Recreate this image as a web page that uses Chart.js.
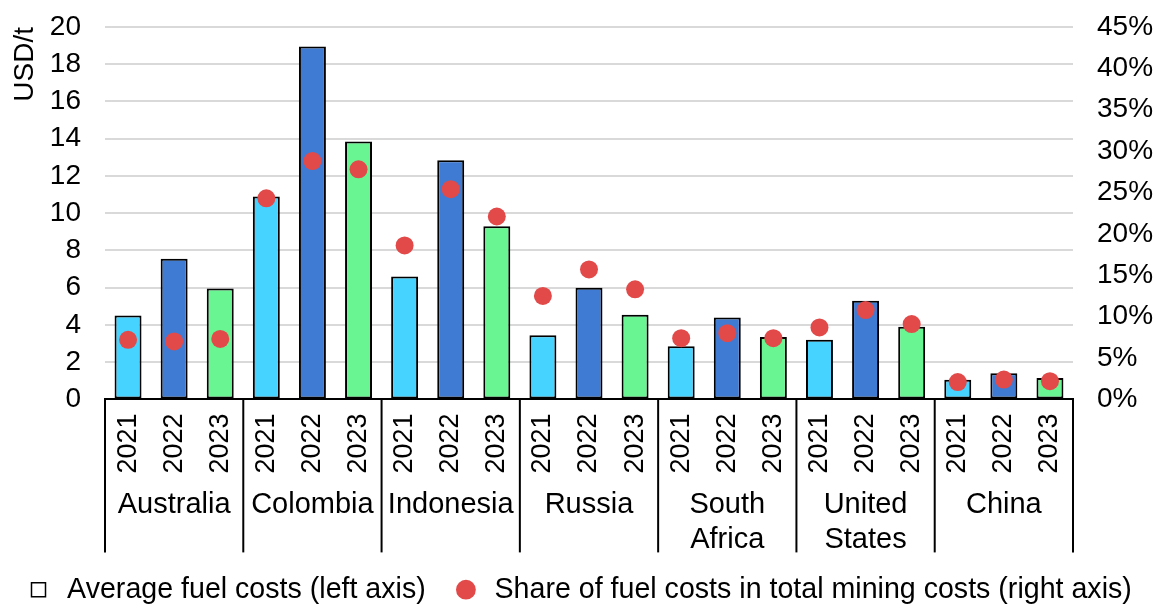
<!DOCTYPE html>
<html>
<head>
<meta charset="utf-8">
<script src="https://cdn.jsdelivr.net/npm/chart.js@4"></script>
<style>
	html, body { margin: 0; padding: 0; background: #fff; }
	#wrap { width: 1156px; height: 605px; }
</style>
</head>
<body>
<div id="wrap"><canvas id="fuel-chart"></canvas></div>
<script>
const years = ["2021", "2022", "2023"];
const countries = ["Australia", "Colombia", "Indonesia", "Russia", ["South", "Africa"], ["United", "States"], "China"];

// USD/t, one row per country (2021, 2022, 2023)
const fuelCosts = [
	4.5, 7.55, 5.95,
	10.9, 18.95, 13.85,
	6.6, 12.85, 9.3,
	3.45, 6.0, 4.55,
	2.85, 4.4, 3.35,
	3.2, 5.3, 3.9,
	1.05, 1.4, 1.15
];

// share of fuel costs in total mining costs, %
const fuelShare = [
	7.2, 7.0, 7.3,
	24.3, 28.8, 27.8,
	18.6, 25.4, 22.1,
	12.5, 15.7, 13.3,
	7.4, 8.0, 7.4,
	8.7, 10.8, 9.1,
	2.1, 2.4, 2.2
];

const leftTicks = [0, 20, 2];
const rightTicks = [0, 45, 5];

const yearColors = ["#47D3FF", "#3F7BD3", "#68F592"];

Chart.defaults.font.family = "'Liberation Sans', Arial, sans-serif";
Chart.defaults.color = "#000";

var labels = [];
var barColors = [];
for (var i = 0; i < fuelCosts.length; i++) {
	labels.push(years[i % 3]);
	barColors.push(yearColors[i % 3]);
}

// vertical separators between the country groups, under the axis
const groupLines = {
	id: 'groupLines',
	afterDraw(chart) {
		const xs = chart.scales.x;
		const ctx = chart.ctx;
		ctx.save();
		ctx.strokeStyle = "#000";
		ctx.lineWidth = 2;
		for (var k = 0; k <= countries.length; k++) {
			var px;
			if (k == 0) px = xs.left;
			else if (k == countries.length) px = xs.right;
			else px = (xs.getPixelForValue(k * 3 - 1) + xs.getPixelForValue(k * 3)) / 2;
			ctx.beginPath();
			ctx.moveTo(px, xs.top);
			ctx.lineTo(px, xs.top + 153);
			ctx.stroke();
		}
		ctx.restore();
	}
};

var chart = new Chart(document.getElementById('fuel-chart'), {
	type: 'bar',
	data: {
		labels: labels,
		datasets: [{
			type: 'bar',
			label: 'Average fuel costs (left axis)',
			data: fuelCosts,
			backgroundColor: barColors,
			borderColor: "#000",
			borderWidth: 2,
			borderSkipped: false,
			barPercentage: 0.585,
			categoryPercentage: 1,
			yAxisID: 'y',
			order: 1
		},
		{
			type: 'line',
			label: 'Share of fuel costs in total mining costs (right axis)',
			data: fuelShare,
			showLine: false,
			pointRadius: 9,
			pointHoverRadius: 9,
			pointBackgroundColor: "#E24A4A",
			pointBorderWidth: 0,
			yAxisID: 'y2',
			order: 0
		}]
	},
	options: {
		responsive: true,
		maintainAspectRatio: false,
		animation: false,
		layout: { autoPadding: false, padding: { top: 27, left: 0, right: 0, bottom: -9 } },
		plugins: {
			tooltip: { enabled: false },
			legend: {
				position: 'bottom',
				labels: {
					font: { size: 28.6 },
					usePointStyle: true,
					boxHeight: 14,
					padding: 10,
					generateLabels: function () {
						return [{
							text: 'Average fuel costs (left axis)  ',
							fillStyle: "#fff",
							strokeStyle: "#000",
							lineWidth: 1.5,
							pointStyle: 'rect',
							datasetIndex: 0
						}, {
							text: 'Share of fuel costs in total mining costs (right axis)',
							fillStyle: "#E24A4A",
							strokeStyle: "#E24A4A",
							lineWidth: 0,
							pointStyle: 'circle',
							datasetIndex: 1
						}];
					}
				}
			}
		},
		scales: {
			x: {
				type: 'category',
				weight: 1,
				offset: true,
				grid: { display: false },
				border: { display: true, color: "#000", width: 2 },
				ticks: { autoSkip: false, minRotation: 90, maxRotation: 90, padding: 6, font: { size: 27 } },
				afterFit: function (scale) { scale.height = 80; }
			},
			x2: {
				type: 'category',
				position: 'bottom',
				weight: 2,
				labels: countries,
				offset: true,
				grid: { display: false, drawTicks: false, tickLength: 0 },
				border: { display: false },
				ticks: { autoSkip: false, maxRotation: 0, padding: 8, font: { size: 29 } },
				afterFit: function (scale) { scale.height = 86; }
			},
			y: {
				position: 'left',
				min: leftTicks[0],
				max: leftTicks[1],
				ticks: { stepSize: leftTicks[2], autoSkip: false, padding: 2, font: { size: 28 } },
				grid: { color: "#D9D9D9", lineWidth: 2, drawTicks: true, tickLength: 22, tickColor: "rgba(0,0,0,0)" },
				border: { display: false },
				title: { display: true, text: 'USD/t', align: 'end', font: { size: 28 }, padding: { top: 8, bottom: 0 } },
				afterFit: function (scale) { scale.width = 105; }
			},
			y2: {
				position: 'right',
				min: rightTicks[0],
				max: rightTicks[1],
				ticks: { stepSize: rightTicks[2], autoSkip: false, padding: 2, font: { size: 28 }, callback: function (v) { return v + '%'; } },
				grid: { drawOnChartArea: false, drawTicks: true, tickLength: 22, tickColor: "rgba(0,0,0,0)" },
				border: { display: false },
				afterFit: function (scale) { scale.width = 83; }
			}
		}
	},
	plugins: [groupLines]
});
</script>
</body>
</html>
